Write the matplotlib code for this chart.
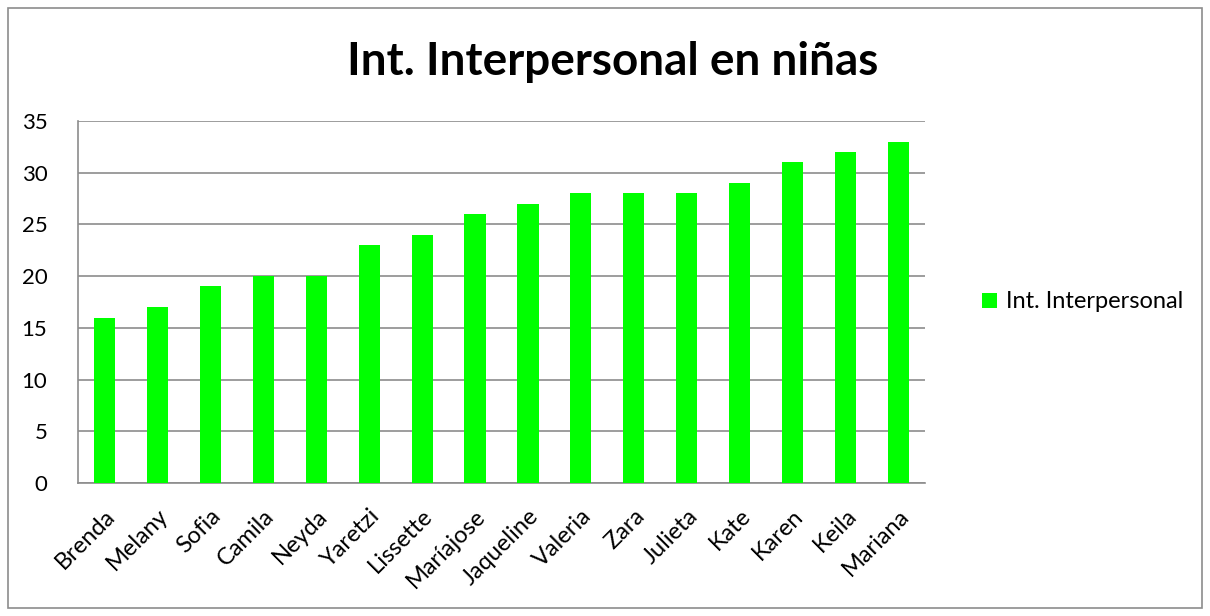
import matplotlib.pyplot as plt
from matplotlib.patches import Rectangle

nombres = ['Brenda', 'Melany', 'Sofia', 'Camila', 'Neyda', 'Yaretzi', 'Lissette',
           'Maríajose', 'Jaqueline', 'Valeria', 'Zara', 'Julieta', 'Kate', 'Karen',
           'Keila', 'Mariana']
puntajes = [16, 17, 19, 20, 20, 23, 24, 26, 27, 28, 28, 28, 29, 31, 32, 33]
serie = 'Int. Interpersonal'
titulo = 'Int. Interpersonal en niñas'

plt.rcParams['font.family'] = ['Lato', 'DejaVu Sans']

fig = plt.figure(figsize=(12.1, 6.16), dpi=100)
ax = fig.add_axes([78 / 1210, 1 - 483 / 616, (925 - 78) / 1210, (483 - 121) / 616])

x = list(range(len(nombres)))
ax.bar(x, puntajes, width=0.4, color='#00ff00', label=serie, zorder=3)

ax.set_xlim(-0.5, len(nombres) - 0.5)
ax.set_ylim(0, 35)
ax.set_yticks(range(0, 36, 5))
ax.yaxis.grid(True, color='#8c8c8c', linewidth=1.2, zorder=0)
ax.set_xticks(x)
ax.set_xticklabels(nombres, rotation=45, ha='right', rotation_mode='anchor', fontsize=17)
ax.tick_params(axis='x', length=0, pad=16)
ax.tick_params(axis='y', length=0, pad=22, labelsize=16)

for s in ['top', 'right']:
    ax.spines[s].set_visible(False)
for s in ['left', 'bottom']:
    ax.spines[s].set_color('#8c8c8c')
    ax.spines[s].set_linewidth(1.2)

fig.text(0.506, 1 - 62 / 616, titulo, ha='center', va='center', fontsize=33, fontweight='bold')

ax.legend(loc='center left', bbox_to_anchor=(1.04, 0.5), frameon=False, fontsize=17,
          handlelength=0.6, handleheight=0.6, handletextpad=0.4, borderaxespad=0.6)

fig.patches.append(Rectangle((8 / 1210, 8 / 616), 1194 / 1210, 600 / 616, transform=fig.transFigure,
                             fill=False, edgecolor='#8c8c8c', linewidth=1.2))

fig.savefig('out.png', dpi=100)
